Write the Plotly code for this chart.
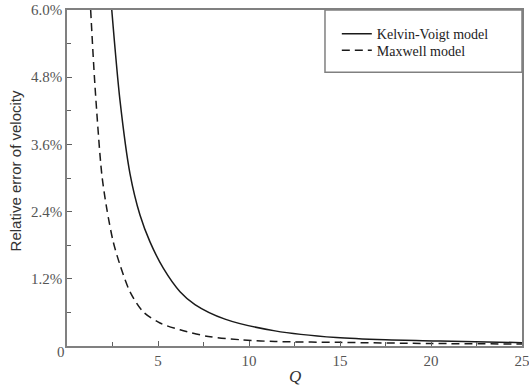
import plotly.graph_objects as go

# Kelvin-Voigt model (Q, relative error in %)
kv_q = [2.46, 2.91, 3.46, 4.01, 4.56, 5.29, 6.21, 7.03, 8.68, 11.43, 14.8, 17.5, 20.5, 25]
kv_err = [6.0, 4.39, 3.08, 2.34, 1.86, 1.39, 0.97, 0.74, 0.48, 0.27, 0.15, 0.11, 0.09, 0.06]

# Maxwell model
mx_q = [1.30, 1.54, 1.91, 2.18, 2.54, 2.91, 3.46, 4.19, 5.11, 6.21, 7.76, 9.60, 11.43, 15, 20, 25]
mx_err = [6.0, 4.63, 3.07, 2.46, 1.86, 1.45, 0.97, 0.61, 0.41, 0.29, 0.17, 0.11, 0.08, 0.065, 0.045, 0.035]

y_tickvals = [0, 1.2, 2.4, 3.6, 4.8, 6.0]
y_ticktext = ["", "1.2%", "2.4%", "3.6%", "4.8%", "6.0%"]
x_tickvals = [0, 5, 10, 15, 20, 25]
x_ticktext = ["", "5", "10", "15", "20", "25"]

serif = "Liberation Serif, Times New Roman, serif"

fig = go.Figure()
fig.add_trace(go.Scatter(x=kv_q, y=kv_err, mode="lines", name="Kelvin-Voigt model", legend="legend",
                         line=dict(color="#1a1a1a", width=1.5, shape="spline", smoothing=0.8)))
fig.add_trace(go.Scatter(x=mx_q, y=mx_err, mode="lines", name="Maxwell model", legend="legend2",
                         line=dict(color="#1a1a1a", width=1.5, dash="8px,5px", shape="spline", smoothing=0.8)))

axis_common = dict(showgrid=False, zeroline=False, showline=True, mirror=True, automargin=False,
                   ticklabeloverflow="allow",
                   linecolor="#808080", linewidth=1.5, ticks="inside", ticklen=5,
                   tickcolor="#606060", tickwidth=1,
                   tickfont=dict(family=serif, size=15, color="#555555"))

fig.update_xaxes(range=[0, 25], tickvals=x_tickvals, ticktext=x_ticktext,
                 minor=dict(ticks="inside", ticklen=4, tickcolor="#606060", dtick=2.5, tick0=0),
                 **axis_common)
fig.update_yaxes(range=[0, 6], tickvals=y_tickvals, ticktext=y_ticktext,
                 minor=dict(ticks="inside", ticklen=4, tickcolor="#606060", dtick=0.6, tick0=0),
                 **axis_common)

leg_style = dict(xanchor="left", yanchor="middle", bgcolor="rgba(0,0,0,0)", borderwidth=0,
                 font=dict(family=serif, size=14, color="#222222"))

fig.update_layout(
    width=529, height=389,
    margin=dict(l=67, r=7, t=10, b=43),
    paper_bgcolor="white", plot_bgcolor="white",
    showlegend=True,
    legend=dict(x=0.593, y=0.928, **leg_style),
    legend2=dict(x=0.593, y=0.879, **leg_style),
    shapes=[dict(type="rect", xref="paper", yref="paper", x0=0.567, x1=1.0, y0=0.815, y1=1.0,
                 line=dict(color="#808080", width=1.5), fillcolor="rgba(0,0,0,0)")],
    annotations=[
        dict(text="0", xref="paper", yref="paper", x=-0.013, y=-0.018, showarrow=False,
             xanchor="center", yanchor="middle", font=dict(family=serif, size=15, color="#555555")),
        dict(text="<i>Q</i>", xref="paper", yref="paper", x=0.5, y=-0.092, showarrow=False,
             xanchor="center", yanchor="middle", font=dict(family=serif, size=17, color="#333333")),
        dict(text="Relative error of velocity", xref="paper", yref="paper", x=-0.114, y=0.52,
             showarrow=False, textangle=-90, xanchor="center", yanchor="middle",
             font=dict(family="Liberation Sans Narrow, Liberation Sans, Arial, sans-serif", size=15, color="#333333")),
    ],
)

fig.write_html("out.html", config={"displayModeBar": False},
               post_script="document.body.style.margin='0';document.body.style.padding='0';")
